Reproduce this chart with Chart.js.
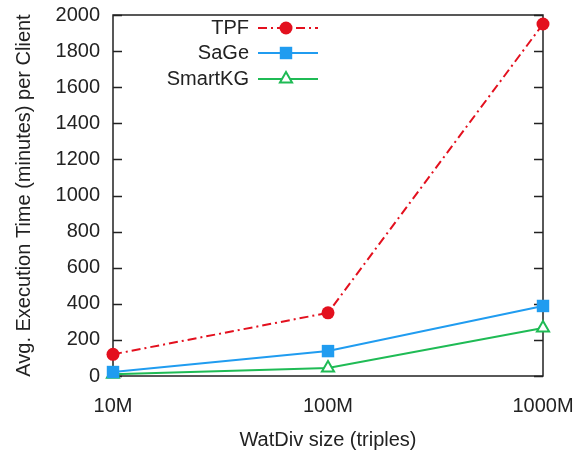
<!DOCTYPE html>
<html>
<head>
<meta charset="utf-8">
<script src="https://cdn.jsdelivr.net/npm/chart.js@4/dist/chart.umd.min.js"></script>
<style>
  html, body { margin: 0; padding: 0; background: #fff; }
  #wrap { width: 574px; height: 457px; }
</style>
</head>
<body>
<div id="wrap"><canvas id="chart"></canvas></div>
<script>
const sizes = ['10M', '100M', '1000M'];
const tpf = [120, 350, 1950];
const sage = [22, 138, 388];
const smartkg = [10, 44, 266];
const yTicks = [0, 200, 400, 600, 800, 1000, 1200, 1400, 1600, 1800, 2000];

const FONT = 'Liberation Sans, Arial, sans-serif';
const FS = 20;

// frame + inward ticks (gnuplot style)
const framePlugin = {
  id: 'frame',
  beforeDatasetsDraw(chart) {
    const { ctx, chartArea: a, scales } = chart;
    ctx.save();
    ctx.strokeStyle = '#222';
    ctx.lineWidth = 1.5;
    ctx.strokeRect(a.left, a.top, a.right - a.left, a.bottom - a.top);
    ctx.beginPath();
    yTicks.forEach(v => {
      const y = Math.round(scales.y.getPixelForValue(v)) + 0.5;
      ctx.moveTo(a.left, y); ctx.lineTo(a.left + 9, y);
      ctx.moveTo(a.right, y); ctx.lineTo(a.right - 9, y);
    });
    ctx.stroke();
    ctx.restore();
  }
};

function drawMarker(ctx, ds, x, y) {
  ctx.fillStyle = ds.pointBackgroundColor;
  ctx.strokeStyle = ds.pointBorderColor;
  ctx.lineWidth = ds.pointBorderWidth || 1;
  Chart.helpers.drawPoint(ctx, {
    pointStyle: ds.pointStyle,
    radius: ds.pointRadius,
    rotation: 0,
    borderWidth: ds.pointBorderWidth || 0
  }, x, y);
}

// legend inside the plot: text right-aligned, sample line on the right
const keyPlugin = {
  id: 'key',
  afterDatasetsDraw(chart) {
    const { ctx } = chart;
    const textRight = 249, x0 = 258, x1 = 318, rowY = [28, 53, 79];
    ctx.save();
    ctx.font = FS + 'px ' + FONT;
    ctx.textAlign = 'right';
    ctx.textBaseline = 'middle';
    chart.data.datasets.forEach((ds, i) => {
      const y = rowY[i];
      ctx.fillStyle = '#222';
      ctx.fillText(ds.label, textRight, y);
      ctx.strokeStyle = ds.borderColor;
      ctx.lineWidth = ds.borderWidth;
      ctx.setLineDash(ds.borderDash || []);
      ctx.beginPath();
      ctx.moveTo(x0, y); ctx.lineTo(x1, y);
      ctx.stroke();
      ctx.setLineDash([]);
      drawMarker(ctx, ds, 286, y);
    });
    ctx.restore();
  }
};

new Chart(document.getElementById('chart'), {
  type: 'line',
  data: {
    labels: sizes,
    datasets: [
      {
        label: 'TPF',
        data: tpf,
        borderColor: '#e3101e',
        borderWidth: 2,
        borderDash: [9, 4, 2, 4],
        pointStyle: 'circle',
        pointRadius: 6.5,
        pointBackgroundColor: '#e3101e',
        pointBorderColor: '#e3101e',
        pointBorderWidth: 0,
        clip: false
      },
      {
        label: 'SaGe',
        data: sage,
        borderColor: '#209cf0',
        borderWidth: 2,
        pointStyle: 'rect',
        pointRadius: 8.8,
        pointBackgroundColor: '#209cf0',
        pointBorderColor: '#209cf0',
        pointBorderWidth: 0,
        clip: false
      },
      {
        label: 'SmartKG',
        data: smartkg,
        borderColor: '#1fbb55',
        borderWidth: 2,
        pointStyle: 'triangle',
        pointRadius: 7,
        pointBackgroundColor: '#ffffff',
        pointBorderColor: '#1fbb55',
        pointBorderWidth: 2,
        clip: false
      }
    ]
  },
  options: {
    responsive: true,
    maintainAspectRatio: false,
    animation: false,
    layout: { padding: { top: 15, right: 31, left: 8, bottom: 0 } },
    plugins: { legend: { display: false }, tooltip: { enabled: false } },
    scales: {
      x: {
        offset: false,
        grid: { display: false, drawTicks: false },
        border: { display: false },
        ticks: { color: '#222', font: { family: FONT, size: FS }, padding: 18, maxRotation: 0 },
        title: { display: true, text: 'WatDiv size (triples)', color: '#222', font: { family: FONT, size: FS }, padding: { top: 4, bottom: 5 } },
        afterFit(s) { s.height = 81; s.paddingLeft = 0; s.paddingRight = 0; }
      },
      y: {
        min: 0,
        max: 2000,
        grid: { display: false, drawTicks: false },
        border: { display: false },
        afterBuildTicks(s) { s.ticks = yTicks.map(v => ({ value: v })); },
        ticks: { color: '#222', font: { family: FONT, size: FS }, padding: 13, callback: v => String(v) },
        title: { display: true, text: 'Avg. Execution Time (minutes) per Client', color: '#222', font: { family: FONT, size: FS }, padding: { top: 4, bottom: 4 } },
        afterFit(s) { s.width = 105; s.paddingTop = 0; s.paddingBottom = 0; }
      }
    }
  },
  plugins: [framePlugin, keyPlugin]
});
</script>
</body>
</html>
